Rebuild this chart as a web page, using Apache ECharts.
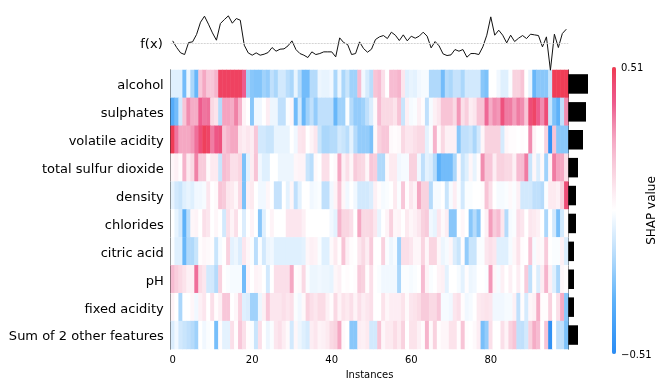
<!DOCTYPE html>
<html>
<head>
<meta charset="utf-8">
<title>SHAP heatmap</title>
<script src="https://cdn.jsdelivr.net/npm/echarts@6/dist/echarts.min.js"></script>
<style>
  html, body { margin: 0; padding: 0; background: #fff; }
  #main { width: 662px; height: 391px; }
</style>
</head>
<body>
<div id="main"></div>
<script>
var featureNames = ['alcohol', 'sulphates', 'volatile acidity', 'total sulfur dioxide', 'density',
  'chlorides', 'citric acid', 'pH', 'fixed acidity', 'Sum of 2 other features'];

// SHAP values per instance, in hundredths
var alcohol = [-7,-7,-7,-28,-4,-18,-30,17,25,17,
  17,22,48,48,48,48,48,48,38,-20,
  -24,-25,-25,-20,-22,-14,-18,-10,-10,-15,
  -18,-5,-16,-28,-28,-16,-16,-4,-5,-5,
  -3,-18,-4,-18,-12,-20,-20,20,-3,-9,
  -15,18,20,10,0,20,20,22,8,-7,
  -5,-6,-3,-2,-2,-17,-17,-17,-28,-16,
  -18,-13,-13,-18,-10,-10,-10,-10,-24,-26,
  0,0,-3,-7,-7,-1,14,14,18,0,
  -5,-30,-24,-24,-24,-12,50,50,50,50];
var sulphates = [-35,-28,-10,18,30,24,24,38,34,35,
  12,9,-16,26,26,24,32,22,4,0,
  -24,-3,-3,0,6,-4,-4,-14,-14,-1,
  3,-28,-10,-30,-20,-14,-22,-14,-14,-14,
  -14,-30,-20,-20,-1,-16,-22,-22,-20,-14,
  -8,2,20,12,12,12,9,18,-12,5,
  -2,-1,5,1,-14,-2,5,8,18,18,
  18,12,28,10,15,6,8,18,18,36,
  24,30,28,42,33,33,27,33,30,18,
  44,47,38,30,44,-12,-26,-32,-14,30];
var volatileAcidity = [50,34,25,25,25,28,35,44,49,47,
  33,40,42,18,22,25,25,8,6,8,
  6,17,-10,-10,-12,-12,-5,-5,-5,-5,
  0,-3,8,9,0,4,8,-12,-18,-18,
  -16,-16,-10,-12,-15,-6,-16,-22,-22,-22,
  -26,2,14,17,17,2,1,2,12,8,
  8,10,12,12,-6,-1,22,2,12,5,
  5,5,-24,-14,-14,-12,-18,-10,3,14,
  14,14,14,-9,3,1,1,0,1,0,
  30,4,0,0,14,-48,18,-24,-24,-24];
var totalSulfur = [3,5,1,22,7,12,32,16,16,2,
  7,7,-12,20,18,10,10,13,-26,-6,
  6,18,-3,-7,-7,0,0,-4,-4,-4,
  -4,3,4,4,-12,-15,2,0,10,10,
  0,2,25,5,10,3,16,13,12,3,
  17,15,-17,-17,2,7,7,-3,-2,-2,
  14,14,-3,-14,-6,-8,-16,-33,-28,-28,
  -28,-18,2,-12,-7,3,-5,1,30,17,
  17,6,14,14,12,12,5,20,20,33,
  -12,3,-8,2,-20,4,33,26,25,10];
var density = [-5,-10,-12,-7,-5,-7,-3,-3,-2,8,
  0,2,18,16,8,7,3,12,-26,5,
  7,0,-3,-3,3,0,-13,-13,0,-6,
  3,-14,-6,0,0,-3,-2,-1,-14,-14,
  -3,4,18,3,-3,0,-3,-10,-10,-10,
  -8,5,1,-2,-1,0,7,-1,17,1,
  8,4,25,14,14,-16,-2,-2,0,-12,
  -2,6,-1,-10,-1,-1,0,0,1,18,
  10,0,-2,-2,-1,2,-1,5,-10,-10,
  -10,-14,-14,-16,-1,7,7,5,14,44];
var chlorides = [0,-5,-10,-32,-15,3,4,0,10,8,
  0,3,0,-10,10,4,10,0,-8,0,
  4,0,-24,-7,0,4,0,0,0,8,
  8,8,8,5,0,0,0,0,0,0,
  -3,-6,22,13,13,10,0,25,12,12,
  13,8,-5,0,4,14,3,4,0,7,
  3,5,8,14,16,-3,-5,8,2,6,
  -24,-24,0,3,0,-24,-16,-24,0,5,
  27,16,20,8,-16,-2,-1,10,8,0,
  8,7,5,0,-18,0,-10,-27,-10,1];
var citricAcid = [-1,-7,-7,-30,-17,-17,-12,1,3,2,
  1,-12,-2,0,14,-6,-4,-8,8,3,
  -1,-15,-1,-10,-4,-3,-7,-7,-7,-7,
  -7,-7,-7,-6,3,5,4,-1,-7,-7,
  2,7,1,18,5,1,0,8,12,6,
  16,0,0,14,-1,-4,-2,-20,10,10,
  8,3,3,13,3,13,13,3,-4,-2,
  3,-8,-12,1,-22,-12,-12,-1,-1,8,
  10,8,-7,-7,-7,-2,3,9,1,0,
  18,-2,3,2,16,0,-1,-1,5,-8];
var pH = [20,15,12,9,5,5,35,11,8,-10,
  -10,-16,14,0,-1,-2,-2,-2,-28,4,
  0,4,3,0,-10,0,10,10,10,10,
  25,1,2,12,-1,-4,-4,-3,-4,-4,
  -5,3,5,0,1,0,1,16,14,1,
  10,0,-1,-3,-3,-3,-3,-18,-1,-1,
  -2,-1,0,20,4,-1,0,4,5,-6,
  0,0,-2,-6,1,-4,-3,0,0,-1,
  28,3,-2,5,0,5,0,6,0,16,
  -14,1,-8,6,22,5,-7,-18,3,1];
var fixedAcidity = [4,0,-18,0,0,3,-3,5,8,0,
  10,1,5,17,17,0,3,14,-7,-8,
  -20,-20,-4,5,17,8,8,8,10,8,
  10,-1,-3,2,14,10,8,11,11,5,
  1,12,4,9,7,10,4,10,6,8,
  10,0,0,9,3,6,6,6,9,2,
  8,9,11,16,16,12,12,17,-2,-2,
  -3,8,10,1,-3,-2,0,7,8,9,
  8,-3,-3,-3,-2,-2,5,-14,1,-9,
  3,5,24,1,1,14,0,10,24,-24];
var otherFeatures = [-8,-3,-10,-12,-14,-16,-20,0,-3,-1,
  0,-27,1,-6,-6,10,1,17,10,1,
  -1,-12,10,0,-4,-1,8,10,6,2,
  -10,3,-4,-7,-9,6,8,4,5,7,
  12,14,25,2,0,-24,-24,6,5,7,
  -10,-10,18,3,7,7,11,7,14,0,
  9,9,5,1,22,2,14,1,3,3,
  9,9,1,18,1,0,2,6,-27,-22,
  10,0,0,10,4,14,18,-14,-14,-10,
  14,24,20,0,18,-48,0,-14,-14,-26];

// model output per instance, relative to the base value
var fx = [8,-12,-28,-33,3,5,27,64,82,58,
  32,10,60,72,83,61,75,70,-5,-28,
  -35,-28,-35,-32,-27,-12,-23,-17,-16,-7,
  8,-18,-30,-35,-42,-25,-33,-30,-25,-25,
  -25,-40,17,3,-3,-33,-30,5,-15,-26,
  -17,12,20,24,15,34,25,9,26,8,
  22,16,22,34,22,-13,6,-7,-31,-36,
  -34,-18,-23,-18,-41,-30,-30,-33,-10,25,
  80,25,40,25,2,25,6,16,24,15,
  28,26,24,-10,20,-80,28,-12,30,43];

// mean absolute SHAP value per feature
var meanAbs = [0.197, 0.177, 0.147, 0.097, 0.077, 0.077, 0.057, 0.057, 0.057, 0.097];

var shapRows = [alcohol, sulphates, volatileAcidity, totalSulfur, density,
  chlorides, citricAcid, pH, fixedAcidity, otherFeatures];
var shapMax = 0.51;
var fontName = 'DejaVu Sans';

var instances = fx.map(function (v, i) { return String(i); });
var cells = [];
shapRows.forEach(function (row, y) {
  row.forEach(function (v, x) {
    cells.push([x, y, v / 100]);
  });
});

var myChart = echarts.init(document.getElementById('main'));
var option = {
  animation: false,
  backgroundColor: '#fff',
  textStyle: { fontFamily: fontName },
  grid: [
    { left: 170.7, width: 397.6, top: 70, height: 279 },
    { left: 170.7, width: 397.6, top: 10.2, height: 60 },
    { left: 568.3, width: 22, top: 70, height: 279 },
    { left: 612, width: 4, top: 67, height: 287 }
  ],
  xAxis: [
    {
      gridIndex: 0,
      type: 'category',
      data: instances,
      name: 'Instances',
      nameLocation: 'middle',
      nameGap: 21,
      nameTextStyle: { color: '#000', fontSize: 10, fontFamily: fontName },
      axisLine: { show: false },
      axisTick: { alignWithLabel: true, interval: 19, length: 3.5, lineStyle: { color: '#000' } },
      axisLabel: { interval: 19, margin: 6, color: '#000', fontSize: 10, fontFamily: fontName },
      splitLine: { show: false }
    },
    {
      gridIndex: 1,
      type: 'category',
      data: instances,
      show: false
    },
    {
      gridIndex: 2,
      type: 'value',
      min: 0,
      max: 0.22,
      show: false
    },
    {
      gridIndex: 3,
      type: 'value',
      show: false
    }
  ],
  yAxis: [
    {
      gridIndex: 0,
      type: 'category',
      inverse: true,
      data: featureNames,
      axisLine: { lineStyle: { color: '#222', width: 1 } },
      axisTick: { alignWithLabel: true, length: 3.5, lineStyle: { color: '#000' } },
      axisLabel: { margin: 7, verticalAlign: 'top', lineHeight: 4, color: '#000', fontSize: 13, fontFamily: fontName },
      splitLine: { show: false }
    },
    {
      gridIndex: 1,
      type: 'value',
      min: -80,
      max: 100,
      axisLine: { show: false },
      axisTick: { show: false },
      splitLine: { show: false },
      axisLabel: {
        customValues: [0],
        margin: 8,
        verticalAlign: 'top',
        lineHeight: 3,
        color: '#000',
        fontSize: 13,
        fontFamily: fontName,
        formatter: function () { return 'f(x)'; }
      }
    },
    {
      gridIndex: 2,
      type: 'category',
      inverse: true,
      data: featureNames,
      axisLine: { lineStyle: { color: '#222', width: 1 } },
      axisTick: { show: false },
      axisLabel: { show: false },
      splitLine: { show: false }
    },
    {
      gridIndex: 3,
      type: 'value',
      position: 'right',
      min: -shapMax,
      max: shapMax,
      name: 'SHAP value',
      nameLocation: 'middle',
      nameRotate: 90,
      nameGap: 30,
      nameMoveOverlap: false,
      nameTextStyle: { color: '#000', fontSize: 12, fontFamily: fontName },
      axisLine: { show: false },
      axisTick: { show: false },
      splitLine: { show: false },
      axisLabel: {
        customValues: [-shapMax, shapMax],
        margin: 5,
        verticalAlign: 'top',
        lineHeight: 3,
        color: '#000',
        fontSize: 10,
        fontFamily: fontName,
        formatter: function (v) {
          return v < 0 ? '\u2212' + Math.abs(v).toFixed(2) : v.toFixed(2);
        }
      }
    }
  ],
  visualMap: {
    type: 'continuous',
    seriesIndex: 0,
    min: -shapMax,
    max: shapMax,
    calculable: false,
    hoverLink: false,
    padding: 0,
    left: 612,
    top: 67,
    itemWidth: 4,
    itemHeight: 287,
    text: null,
    inRange: {
      color: ['#2a8cf5', '#3a98f6', '#4ba5f8', '#5eb2f9', '#80c3fa', '#a5d4fb', '#c6e3fc', '#e2f1fe', '#ffffff',
        '#fdecf2', '#fad6e2', '#f7c0d4', '#f5a6c2', '#f083a8', '#ee5a8c', '#ee4c75', '#f03a50']
    }
  },
  series: [
    {
      type: 'heatmap',
      xAxisIndex: 0,
      yAxisIndex: 0,
      data: cells,
      progressive: 0,
      silent: true
    },
    {
      type: 'line',
      xAxisIndex: 1,
      yAxisIndex: 1,
      data: fx,
      symbol: 'none',
      clip: false,
      silent: true,
      lineStyle: { color: '#111', width: 1 },
      markLine: {
        silent: true,
        symbol: 'none',
        label: { show: false },
        lineStyle: { color: '#d4d4d4', type: [2, 1], width: 1 },
        data: [{ yAxis: 0 }]
      }
    },
    {
      type: 'bar',
      xAxisIndex: 2,
      yAxisIndex: 2,
      data: meanAbs,
      barWidth: 19.5,
      silent: true,
      itemStyle: { color: '#000' }
    }
  ]
};
myChart.setOption(option);
</script>
</body>
</html>
